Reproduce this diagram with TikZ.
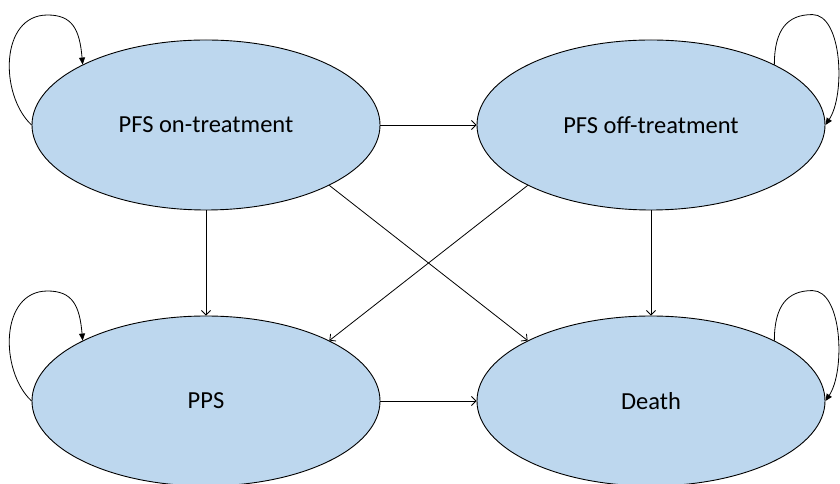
\documentclass[tikz,border=0pt]{standalone}
\usepackage{fontspec}
\setmainfont{Carlito}
\usepackage{tikz}
\usetikzlibrary{shapes.geometric,arrows.meta}

\definecolor{stateblue}{RGB}{189,215,238}

\begin{document}
\begin{tikzpicture}[x=1pt,y=1pt,
		state/.style={ellipse,draw,line width=0.9pt,fill=stateblue,minimum width=348pt,minimum height=170pt,inner sep=0pt,font=\fontsize{24.5}{29}\selectfont},
		trans/.style={-{Straight Barb[length=4.5pt,width=9pt]},line width=0.8pt},
		selfloop/.style={-{Triangle[length=7pt,width=6pt]},line width=0.8pt}]
		\useasboundingbox (0,0) rectangle (840,484);
		\clip (0,0) rectangle (840,484);

		% states
		\node[state] (pfson) at (206,359) {PFS on-treatment};
		\node[state] (pfsoff) at (651,359) {PFS off-treatment};
		\node[state] (pps) at (206,83) {PPS};
		\node[state] (death) at (651,83) {Death};

		% transitions between states
		\draw[trans] (pfson.east) -- (pfsoff.west);
		\draw[trans] (pps.east) -- (death.west);
		\draw[trans] (pfson.south) -- (pps.north);
		\draw[trans] (pfsoff.south) -- (death.north);
		\draw[trans] (pfson.south east) -- (death.north west);
		\draw[trans] (pfsoff.south west) -- (pps.north east);

		% staying in the same state
		\foreach \s in {pfson,pps} {
			\draw[selfloop] (\s.west) .. controls +(-32,30) and +(-48,0) .. ++(16,110)
				.. controls +(25,0) and +(-3,35) .. (\s.north west);
		}
		\foreach \s in {pfsoff,death} {
			\draw[selfloop] (\s.north east) .. controls +(0,35) and +(-25,0) .. ++(38,50)
				.. controls +(30,0) and +(20,30) .. (\s.east);
		}
	\end{tikzpicture}
\end{document}
